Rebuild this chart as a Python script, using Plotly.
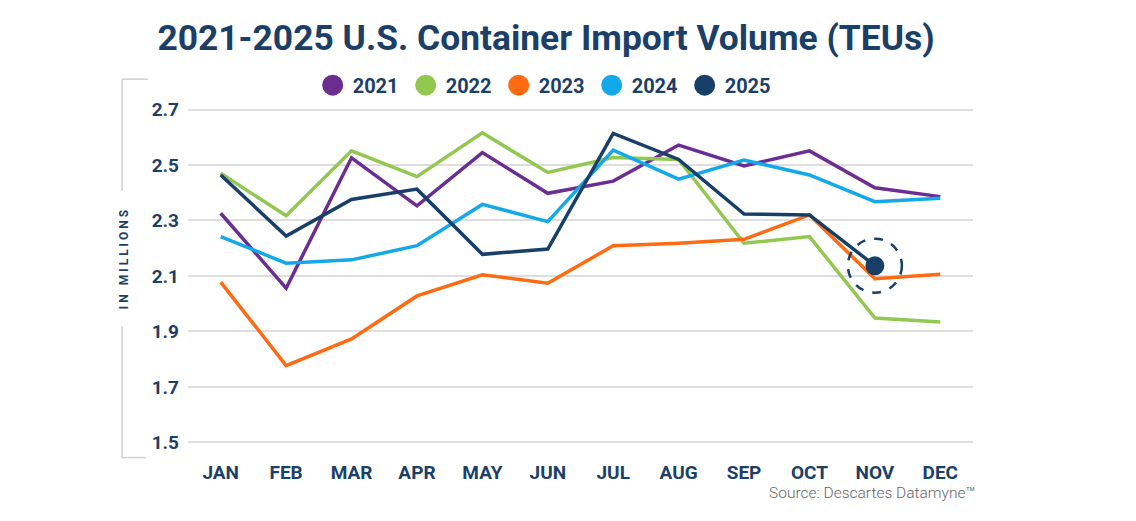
import plotly.graph_objects as go

months = ["JAN", "FEB", "MAR", "APR", "MAY", "JUN", "JUL", "AUG", "SEP", "OCT", "NOV", "DEC"]

y2021 = [2.326, 2.056, 2.526, 2.353, 2.545, 2.398, 2.442, 2.572, 2.497, 2.551, 2.418, 2.386]
y2022 = [2.470, 2.317, 2.551, 2.458, 2.616, 2.473, 2.527, 2.520, 2.218, 2.242, 1.948, 1.934]
y2023 = [2.078, 1.777, 1.873, 2.028, 2.104, 2.074, 2.209, 2.218, 2.232, 2.320, 2.090, 2.106]
y2024 = [2.242, 2.146, 2.158, 2.209, 2.358, 2.296, 2.554, 2.449, 2.518, 2.464, 2.368, 2.380]
y2025 = [2.464, 2.244, 2.376, 2.413, 2.178, 2.197, 2.614, 2.520, 2.323, 2.320, 2.137]

years = ["2021", "2022", "2023", "2024", "2025"]
colors = ["#6b2d90", "#92c84f", "#ff6a13", "#13a9e9", "#183f67"]
series = [y2021, y2022, y2023, y2024, y2025]

navy = "#1c3f68"

fig = go.Figure()

# lines first, legend gets its own marker-only traces so it shows dots
for name, vals, col in zip(years, series, colors):
    fig.add_trace(go.Scatter(x=months[:len(vals)], y=vals, mode="lines", name=name,
                             line=dict(color=col, width=3.5), showlegend=False))

# legend caps marker size at 16, a same-colour outline makes the dot bigger
for name, col in zip(years, colors):
    fig.add_trace(go.Scatter(x=[None], y=[None], mode="markers", name=name,
                             marker=dict(color=col, size=16, line=dict(color=col, width=5))))

# latest data point
last = len(y2025) - 1
fig.add_trace(go.Scatter(x=[months[last]], y=[y2025[last]], mode="markers",
                         marker=dict(color=colors[4], size=19), showlegend=False))

fig.add_shape(type="circle", xref="x", yref="y", xsizemode="pixel", ysizemode="pixel",
              xanchor=last, yanchor=y2025[last], x0=-27, x1=27, y0=-27, y1=27,
              line=dict(color=colors[4], width=2.5, dash="dash"))

# bracket around the y axis title
grey = "#d0d0d0"
fig.add_shape(type="line", xref="paper", yref="paper", x0=-0.084, x1=-0.084, y0=1.07, y1=0.755,
              line=dict(color=grey, width=1.5))
fig.add_shape(type="line", xref="paper", yref="paper", x0=-0.084, x1=-0.051, y0=1.07, y1=1.07,
              line=dict(color=grey, width=1.5))
fig.add_shape(type="line", xref="paper", yref="paper", x0=-0.084, x1=-0.084, y0=0.375, y1=0.004,
              line=dict(color=grey, width=1.5))
fig.add_shape(type="line", xref="paper", yref="paper", x0=-0.084, x1=-0.054, y0=0.004, y1=0.004,
              line=dict(color=grey, width=1.5))

fig.add_annotation(text="I N   M I L L I O N S", xref="paper", yref="paper", x=-0.0815, y=0.56,
                   xanchor="center", yanchor="middle", textangle=-90, showarrow=False,
                   font=dict(family="Roboto", size=12, color=navy, weight="bold"))

fig.add_annotation(text="Source: Descartes Datamyne™", xref="paper", yref="paper", x=1.005, y=-0.095,
                   xanchor="right", yanchor="middle", showarrow=False,
                   font=dict(family="Roboto", size=15.5, color="#666666", weight=300))

fig.update_layout(
    width=1136, height=521,
    margin=dict(l=180, r=171, t=96, b=70),
    paper_bgcolor="white", plot_bgcolor="white",
    title=dict(text="<b>2021-2025 U.S. Container Import Volume (TEUs)</b>", x=0.4736, xanchor="center",
               y=0.944, yanchor="middle", xref="container",
               font=dict(family="Roboto", size=35.4, color=navy)),
    legend=dict(orientation="h", x=0.455, xanchor="center", y=1.053, yanchor="middle",
                font=dict(family="Roboto", size=20, color=navy, weight="bold"),
                itemwidth=30, entrywidth=48, bgcolor="rgba(0,0,0,0)"),
    xaxis=dict(type="category", range=[-0.5, 11.5], showgrid=False, zeroline=False, showline=False,
               ticks="", tickfont=dict(family="Roboto", size=19, color=navy, weight="bold")),
    yaxis=dict(range=[1.44, 2.72], tickvals=[1.5, 1.7, 1.9, 2.1, 2.3, 2.5, 2.7],
               ticktext=["1.5", "1.7", "1.9", "2.1", "2.3", "2.5", "2.7"],
               showgrid=True, gridcolor="#dedede", gridwidth=2, zeroline=False, showline=False,
               ticks="", ticklabelstandoff=8,
               tickfont=dict(family="Roboto", size=19, color=navy, weight="bold")),
)

fig.write_html("out.html")
